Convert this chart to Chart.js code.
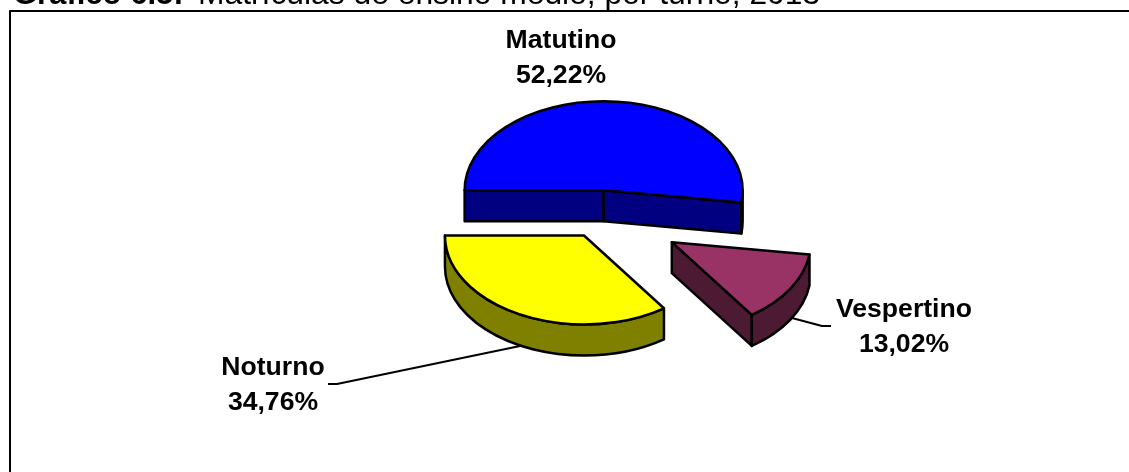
<!DOCTYPE html>
<html>
<head>
<meta charset="utf-8">
<style>html,body{margin:0;padding:0;background:#fff;overflow:hidden}#c{display:block}</style>
<script src="https://cdn.jsdelivr.net/npm/chart.js@4"></script>
</head>
<body>
<div style="position:absolute;left:0;top:0;width:1129px;height:472px"><canvas id="c" width="1129" height="472"></canvas></div>
<script>
const categories = ['Matutino', 'Vespertino', 'Noturno'];
const seriesValues = [52.22, 13.02, 34.76];
const topColors = ['#0000FF', '#993366', '#FFFF00'];
const wallColors = ['#000080', '#4D1A33', '#808000'];
const explode = [38, 83, 37];
const titleBold = 'Gráfico 6.5:';
const titleRest = 'Matrículas de ensino médio, por turno, 2013';
const labelAnchors = [[561, 48], [904, 317], [273, 375]];
const leaders = [null, [[792,318],[822,326],[831,326]], [[520,346],[337,384],[328,384]]];

const FLAT = 0.64, DEPTH = 31, CY = 214.5, EDGE = 2.5, FONT = '"Liberation Sans", Arial, sans-serif';

const pie3d = {
  id: 'pie3d',
  beforeDatasetDraw(chart) {
    const {ctx, chartArea: a} = chart;
    const arcs = chart.getDatasetMeta(0).data;
    const bx = (a.left + a.right) / 2, by = (a.top + a.bottom) / 2;
    const T = CY - by * FLAT;
    chart.$T = T;
    arcs.forEach((arc, i) => {
      const mid = (arc.startAngle + arc.endAngle) / 2;
      arc.x = bx + Math.cos(mid) * explode[i];
      arc.y = by + Math.sin(mid) * explode[i];
    });
    const flat = () => { ctx.translate(0, T); ctx.scale(1, FLAT); };
    const d = DEPTH / FLAT;
    const paint = (i, build) => {
      ctx.save(); flat(); ctx.beginPath(); build(); ctx.closePath(); ctx.restore();
      ctx.fillStyle = wallColors[i]; ctx.strokeStyle = '#000'; ctx.lineWidth = EDGE; ctx.lineJoin = 'round';
      ctx.fill(); ctx.stroke();
    };
    arcs.forEach((arc, i) => {
      const {x, y, startAngle: s, endAngle: e, outerRadius: r} = arc;
      const radial = (ang) => paint(i, () => {
        const px = x + Math.cos(ang) * r, py = y + Math.sin(ang) * r;
        ctx.moveTo(x, y); ctx.lineTo(px, py); ctx.lineTo(px, py + d); ctx.lineTo(x, y + d);
      });
      if (Math.cos(s) < -1e-6) radial(s);
      if (Math.cos(e) > 1e-6) radial(e);
      for (let k = -1; k <= 1; k++) {
        const lo = Math.max(s, 2 * Math.PI * k), hi = Math.min(e, 2 * Math.PI * k + Math.PI);
        if (hi - lo > 1e-4) paint(i, () => {
          ctx.arc(x, y, r, lo, hi, false);
          ctx.arc(x, y + d, r, hi, lo, true);
        });
      }
    });
    ctx.save();
    flat();
  },
  afterDatasetDraw(chart) {
    const {ctx} = chart;
    ctx.restore();
    chart.getDatasetMeta(0).data.forEach((arc) => {
      const {x, y, startAngle: s, endAngle: e, outerRadius: r} = arc;
      ctx.save(); ctx.translate(0, chart.$T); ctx.scale(1, FLAT);
      ctx.beginPath(); ctx.moveTo(x, y); ctx.arc(x, y, r, s, e, false); ctx.closePath();
      ctx.restore();
      ctx.strokeStyle = '#000'; ctx.lineWidth = EDGE; ctx.lineJoin = 'round';
      ctx.stroke();
    });
  },
  afterDraw(chart) {
    const {ctx} = chart;
    ctx.save();
    ctx.strokeStyle = '#000'; ctx.lineWidth = 2; ctx.lineCap = 'butt';
    ctx.beginPath(); ctx.moveTo(1129, 11); ctx.lineTo(10, 11); ctx.lineTo(10, 472); ctx.stroke();
    leaders.forEach((pts) => {
      if (!pts) return;
      ctx.beginPath();
      pts.forEach((p, j) => j ? ctx.lineTo(p[0], p[1]) : ctx.moveTo(p[0], p[1]));
      ctx.stroke();
    });
    ctx.fillStyle = '#000'; ctx.textBaseline = 'alphabetic'; ctx.textAlign = 'left';
    ctx.font = 'bold 31px ' + FONT; ctx.fillText(titleBold, 13, 4);
    ctx.font = '31.8px ' + FONT; ctx.fillText(titleRest, 198, 4);
    ctx.textAlign = 'center'; ctx.font = 'bold 26.6px ' + FONT;
    categories.forEach((name, i) => {
      const [lx, ly] = labelAnchors[i];
      ctx.fillText(name, lx, ly);
      ctx.fillText(seriesValues[i].toFixed(2).replace('.', ',') + '%', lx, ly + 35);
    });
    ctx.restore();
  }
};

new Chart(document.getElementById('c'), {
  type: 'pie',
  data: {
    labels: categories,
    datasets: [{
      data: seriesValues,
      backgroundColor: topColors,
      borderWidth: 0,
      clip: false
    }]
  },
  options: {
    responsive: false,
    animation: false,
    rotation: -90,
    radius: 139,
    layout: {padding: {left: 73}},
    plugins: {legend: {display: false}, tooltip: {enabled: false}, title: {display: false}},
    events: []
  },
  plugins: [pie3d]
});
</script>
</body>
</html>
